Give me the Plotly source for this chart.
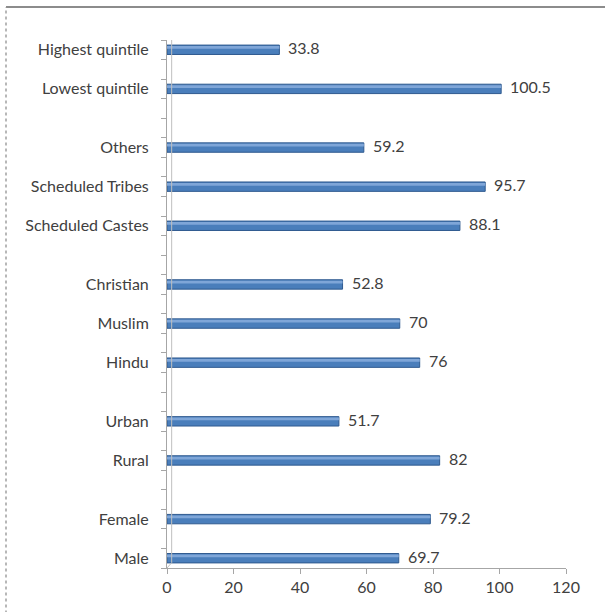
import plotly.graph_objects as go

# Category slots from top to bottom; empty slots separate the groups
categories = [
    "Highest quintile", "", "Lowest quintile", "", "",
    "Others", "", "Scheduled Tribes", "", "Scheduled Castes", "", "",
    "Christian", "", "Muslim", "", "Hindu", "", "",
    "Urban", "", "Rural", "", "",
    "Female", "", "Male",
]
values = [
    33.8, None, 100.5, None, None,
    59.2, None, 95.7, None, 88.1, None, None,
    52.8, None, 70, None, 76, None, None,
    51.7, None, 82, None, None,
    79.2, None, 69.7,
]
x_ticks = [0, 20, 40, 60, 80, 100, 120]

FONT = "Lato, Open Sans, sans-serif"

# unique keys so the empty slots stay separate categories
keys = [c if c else " " * (i + 1) for i, c in enumerate(categories)]
order = list(reversed(keys))  # bottom-up order for the category axis

fig = go.Figure()
fig.add_trace(go.Bar(
    x=values, y=keys, orientation="h",
    marker=dict(color="#4A7EBB", line=dict(color="#2F5A8F", width=1)),
    hoverinfo="skip",
))
# lighter upper face for a raised look
fig.add_trace(go.Bar(
    x=values, y=keys, orientation="h",
    width=0.14, offset=0.05,
    marker=dict(color="#7FA6D8", line=dict(width=0)),
    hoverinfo="skip",
))

# value labels just past the bar ends
annotations = [
    dict(x=v, y=k, xref="x", yref="y", text=f"{v:g}", showarrow=False,
         xanchor="left", yanchor="middle", xshift=7, yshift=2,
         font=dict(family=FONT, size=16, color="#404040"))
    for k, v in zip(keys, values) if v is not None
]

fig.update_layout(
    width=605, height=612,
    margin=dict(l=167, r=39, t=40, b=44),
    paper_bgcolor="white", plot_bgcolor="white",
    barmode="overlay", bargap=0.52,
    showlegend=False,
    font=dict(family=FONT, size=16, color="#404040"),
    annotations=annotations,
    xaxis=dict(
        range=[0, 120], tickvals=x_ticks, showgrid=False, zeroline=False,
        showline=True, linecolor="#A6A6A6", linewidth=1,
        ticks="outside", ticklen=5, tickcolor="#A6A6A6",
        tickfont=dict(family=FONT, size=16, color="#404040"),
    ),
    yaxis=dict(
        type="category", categoryorder="array", categoryarray=order,
        range=[-0.5, len(order) - 0.5],
        showline=True, linecolor="#A6A6A6", linewidth=1,
        ticks="outside", ticklen=5, tickcolor="#A6A6A6", tickson="boundaries",
        ticklabelstandoff=14,
        tickfont=dict(family=FONT, size=16, color="#404040"),
        showgrid=False,
    ),
    shapes=[
        # back wall edge of the chart floor
        dict(type="line", xref="x", yref="paper", x0=1.4, x1=1.4, y0=0.01, y1=1.0,
             line=dict(color="#BFBFBF", width=1)),
        dict(type="line", xref="x", yref="paper", x0=0, x1=1.4, y0=0, y1=0.01,
             line=dict(color="#BFBFBF", width=1)),
        # outer frame
        dict(type="line", xref="paper", yref="paper",
             x0=-161 / 399, x1=1.2, y0=1 + 33 / 528, y1=1 + 33 / 528,
             line=dict(color="#8C8C8C", width=2)),
        dict(type="line", xref="paper", yref="paper",
             x0=-161 / 399, x1=-161 / 399, y0=-0.2, y1=1 + 33 / 528,
             line=dict(color="#A0A0A0", width=1.5, dash="dot")),
    ],
)

fig.write_html("out.html")
